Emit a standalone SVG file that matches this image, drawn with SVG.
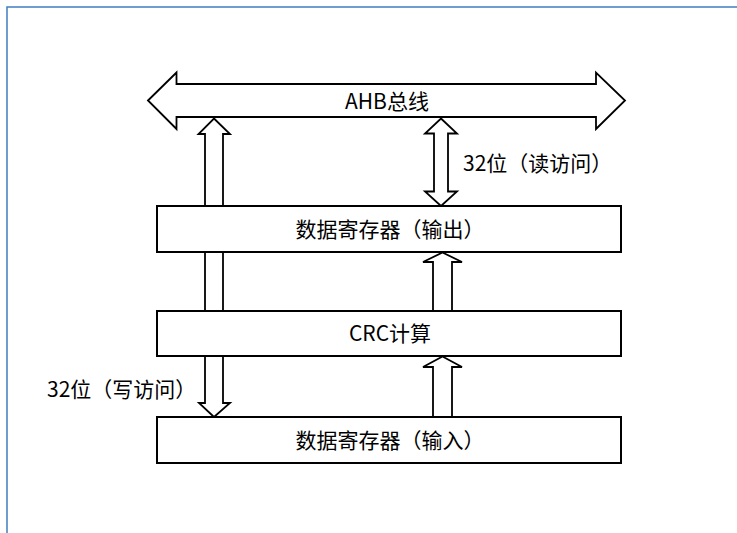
<svg xmlns="http://www.w3.org/2000/svg" width="737" height="533" viewBox="0 0 737 533">
<style>
.frame{fill:none;stroke:#3f7fc0;stroke-width:1.5}
.box{fill:#fff;stroke:#000;stroke-width:2}
.arr{fill:#fff;stroke:#000;stroke-width:1.8;stroke-linejoin:miter}
.t{font-family:"Noto Sans CJK SC","Noto Sans",sans-serif;font-size:21px;fill:#000}
.c{text-anchor:middle}
</style>
<rect width="737" height="533" fill="#fff"/>
<path class="frame" d="M7,533 V7 H737"/>
<g id="connectors">
<path class="arr" d="M214,118.5 L230,134 L223,134 L223,206 L205,206 L205,134 L198.5,134 Z"/>
<rect class="arr" x="205" y="252" width="18" height="59"/>
<path class="arr" d="M205,356 L223,356 L223,403 L230,403 L214,417 L199,403 L205,403 Z"/>
<path class="arr" d="M441,118.5 L457,133.5 L448,133.5 L448,191.5 L457,191.5 L441,206 L425,191.5 L434,191.5 L434,133.5 L425,133.5 Z"/>
<path class="arr" d="M442.5,252.5 L462,262 L452,262 L452,311 L433,311 L433,262 L423,262 Z"/>
<path class="arr" d="M442.5,356.5 L462,367 L452,367 L452,417 L433,417 L433,367 L423,367 Z"/>
</g>
<g id="bus">
<path class="arr" d="M148,100.5 L176.5,72.5 L176.5,84 L596,84 L596,72.5 L625,100.5 L596,129 L596,117 L176.5,117 L176.5,129 Z"/>
<text class="t c" x="387" y="108.5">AHB总线</text>
</g>
<g id="reg-out">
<rect class="box" x="157" y="206" width="464" height="46"/>
<text class="t c" x="390" y="237">数据寄存器（输出）</text>
</g>
<g id="crc">
<rect class="box" x="157" y="311" width="464" height="45"/>
<text class="t c" x="390" y="341">CRC计算</text>
</g>
<g id="reg-in">
<rect class="box" x="157" y="417" width="464" height="46"/>
<text class="t c" x="390" y="448">数据寄存器（输入）</text>
</g>
<g id="labels">
<text class="t" x="463" y="171">32位（读访问）</text>
<text class="t" x="47" y="397">32位（写访问）</text>
</g>
</svg>
